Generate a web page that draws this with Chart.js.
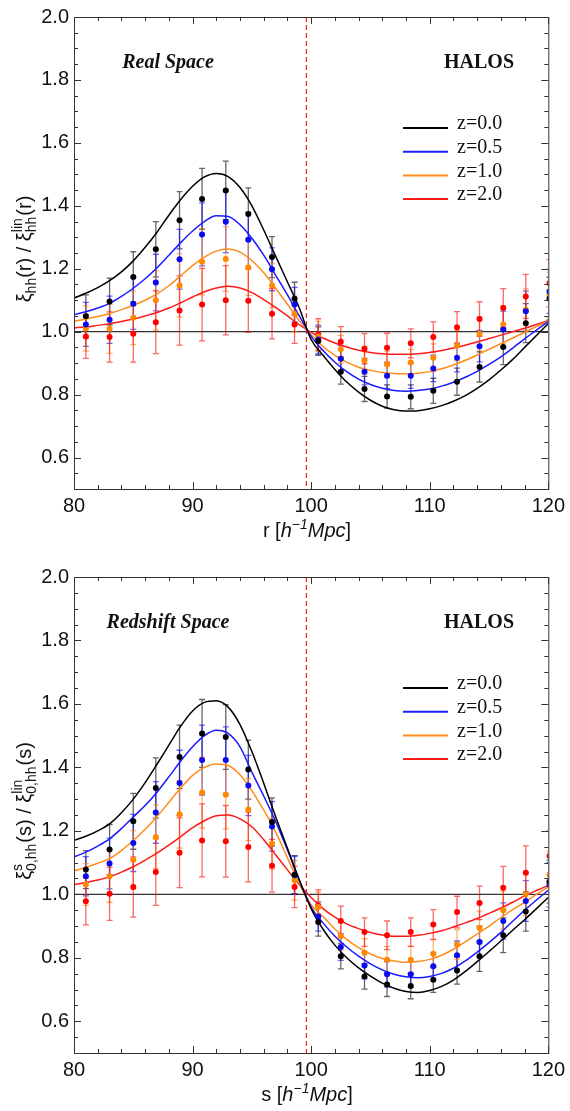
<!DOCTYPE html>
<html>
<head>
<meta charset="utf-8">
<script src="https://cdn.jsdelivr.net/npm/chart.js@4.4.1/dist/chart.umd.min.js"></script>
<style>
  html, body { margin: 0; padding: 0; background: #fff; }
  #wrap { position: relative; width: 570px; height: 1111px; }
  canvas { position: absolute; left: 0; }
  #real { top: 0; }
  #redshift { top: 555px; }
</style>
</head>
<body>
<div id="wrap">
  <canvas id="real" width="570" height="555"></canvas>
  <canvas id="redshift" width="570" height="556"></canvas>
</div>
<script>
// measured bins
const rBins = [81.0, 83.0, 85.0, 86.9, 88.9, 90.8, 92.8, 94.7, 96.7, 98.6, 100.6, 102.5, 104.5, 106.4, 108.4, 110.3, 112.3, 114.2, 116.2, 118.1, 120.1];
// model curve grid
const rGrid = [80, 81, 82, 83, 84, 85, 86, 87, 88, 89, 90, 91, 92, 93, 94, 95, 96, 97, 98, 99, 100,
  101, 102, 103, 104, 105, 106, 107, 108, 109, 110, 111, 112, 113, 114, 115, 116, 117, 118, 119, 120];

const zLabels = ["z=0.0", "z=0.5", "z=1.0", "z=2.0"];
const xTicks = [80, 90, 100, 110, 120];
const yTicks = [0.6, 0.8, 1.0, 1.2, 1.4, 1.6, 1.8, 2.0];
const baoPeak = 99.6;

// real space: measured points
const realK = [1.049, 1.096, 1.174, 1.262, 1.354, 1.422, 1.449, 1.374, 1.237, 1.105, 0.970, 0.873, 0.818, 0.794, 0.793, 0.812, 0.841, 0.888, 0.951, 1.027, 1.105];
const realB = [1.023, 1.038, 1.089, 1.156, 1.230, 1.309, 1.349, 1.292, 1.198, 1.086, 0.975, 0.914, 0.873, 0.860, 0.860, 0.883, 0.917, 0.954, 1.007, 1.065, 1.128];
const realO = [1.010, 1.009, 1.044, 1.100, 1.147, 1.222, 1.231, 1.205, 1.147, 1.056, 0.985, 0.944, 0.909, 0.896, 0.902, 0.917, 0.956, 0.993, 1.023, 1.070, 1.117];
const realR = [0.985, 0.983, 0.993, 1.030, 1.067, 1.086, 1.100, 1.098, 1.057, 1.023, 0.991, 0.968, 0.946, 0.949, 0.963, 0.983, 1.014, 1.040, 1.075, 1.112, 1.154];
const realErrK = [0.068, 0.074, 0.080, 0.088, 0.091, 0.097, 0.093, 0.083, 0.065, 0.052, 0.045, 0.040, 0.040, 0.037, 0.038, 0.040, 0.043, 0.048, 0.056, 0.062, 0.068];
const realErrB = [0.070, 0.075, 0.082, 0.090, 0.095, 0.100, 0.098, 0.087, 0.068, 0.055, 0.046, 0.042, 0.042, 0.040, 0.040, 0.042, 0.045, 0.050, 0.058, 0.064, 0.070];
const realErrO = [0.072, 0.078, 0.085, 0.094, 0.100, 0.105, 0.103, 0.090, 0.070, 0.057, 0.048, 0.044, 0.044, 0.042, 0.042, 0.044, 0.048, 0.053, 0.060, 0.066, 0.072];
const realErrR = [0.070, 0.080, 0.090, 0.100, 0.110, 0.115, 0.110, 0.100, 0.080, 0.060, 0.050, 0.048, 0.048, 0.046, 0.046, 0.048, 0.050, 0.055, 0.062, 0.070, 0.075];
// real space: model curves
const realFitK = [1.107, 1.122, 1.140, 1.162, 1.190, 1.225, 1.268, 1.316, 1.370, 1.420, 1.462, 1.492, 1.503, 1.493, 1.458, 1.400, 1.323, 1.240, 1.158, 1.075, 0.975,
  0.925, 0.880, 0.840, 0.808, 0.782, 0.763, 0.752, 0.748, 0.749, 0.755, 0.765, 0.779, 0.797, 0.820, 0.847, 0.878, 0.912, 0.950, 0.988, 1.026];
const realFitB = [1.054, 1.063, 1.075, 1.090, 1.112, 1.138, 1.168, 1.203, 1.243, 1.283, 1.320, 1.350, 1.368, 1.366, 1.340, 1.297, 1.243, 1.180, 1.117, 1.050, 0.985,
  0.940, 0.903, 0.873, 0.849, 0.832, 0.820, 0.813, 0.811, 0.813, 0.818, 0.827, 0.839, 0.855, 0.874, 0.896, 0.920, 0.948, 0.977, 1.005, 1.033];
const realFitO = [1.033, 1.040, 1.048, 1.058, 1.070, 1.084, 1.100, 1.120, 1.146, 1.178, 1.210, 1.237, 1.256, 1.263, 1.253, 1.226, 1.187, 1.138, 1.087, 1.035, 0.990,
  0.953, 0.925, 0.903, 0.887, 0.877, 0.870, 0.867, 0.866, 0.868, 0.873, 0.882, 0.894, 0.909, 0.926, 0.944, 0.962, 0.980, 0.998, 1.016, 1.034];
const realFitR = [1.012, 1.015, 1.020, 1.025, 1.032, 1.040, 1.050, 1.061, 1.075, 1.092, 1.110, 1.127, 1.139, 1.144, 1.139, 1.124, 1.102, 1.077, 1.050, 1.022, 0.998,
  0.980, 0.964, 0.951, 0.941, 0.934, 0.930, 0.928, 0.928, 0.930, 0.934, 0.940, 0.948, 0.957, 0.967, 0.978, 0.989, 1.000, 1.011, 1.023, 1.035];

// redshift space: measured points
const redshK = [1.078, 1.141, 1.230, 1.335, 1.433, 1.507, 1.496, 1.393, 1.228, 1.062, 0.913, 0.805, 0.741, 0.716, 0.711, 0.731, 0.760, 0.805, 0.871, 0.946, 1.040];
const redshB = [1.057, 1.097, 1.162, 1.258, 1.351, 1.423, 1.423, 1.343, 1.214, 1.060, 0.930, 0.834, 0.776, 0.748, 0.748, 0.773, 0.808, 0.850, 0.916, 0.979, 1.030];
const redshO = [1.031, 1.057, 1.109, 1.181, 1.252, 1.321, 1.314, 1.267, 1.160, 1.044, 0.960, 0.868, 0.816, 0.794, 0.794, 0.813, 0.842, 0.895, 0.950, 1.000, 1.062];
const redshR = [0.978, 1.002, 1.023, 1.070, 1.131, 1.170, 1.167, 1.149, 1.090, 1.023, 0.965, 0.916, 0.881, 0.871, 0.881, 0.905, 0.944, 0.973, 1.021, 1.068, 1.121];
const redshErrK = [0.060, 0.079, 0.088, 0.095, 0.100, 0.107, 0.102, 0.093, 0.076, 0.060, 0.045, 0.040, 0.040, 0.038, 0.040, 0.040, 0.043, 0.048, 0.055, 0.062, 0.068];
const redshErrB = [0.062, 0.080, 0.090, 0.097, 0.103, 0.110, 0.105, 0.095, 0.078, 0.060, 0.046, 0.042, 0.042, 0.040, 0.041, 0.042, 0.045, 0.050, 0.057, 0.064, 0.070];
const redshErrO = [0.066, 0.082, 0.092, 0.100, 0.106, 0.112, 0.108, 0.098, 0.080, 0.062, 0.048, 0.044, 0.044, 0.042, 0.042, 0.044, 0.047, 0.052, 0.060, 0.067, 0.073];
const redshErrR = [0.074, 0.084, 0.095, 0.105, 0.110, 0.115, 0.113, 0.110, 0.083, 0.065, 0.050, 0.047, 0.045, 0.045, 0.045, 0.047, 0.050, 0.053, 0.067, 0.085, 0.080];
// redshift space: model curves
const redshFitK = [1.170, 1.183, 1.200, 1.222, 1.257, 1.300, 1.352, 1.410, 1.470, 1.530, 1.578, 1.605, 1.610, 1.590, 1.535, 1.450, 1.350, 1.245, 1.145, 1.045, 0.955,
  0.890, 0.840, 0.800, 0.768, 0.742, 0.720, 0.704, 0.694, 0.691, 0.697, 0.710, 0.730, 0.757, 0.788, 0.820, 0.853, 0.887, 0.920, 0.955, 0.990];
const redshFitB = [1.118, 1.133, 1.152, 1.175, 1.207, 1.244, 1.280, 1.322, 1.370, 1.420, 1.465, 1.500, 1.517, 1.507, 1.465, 1.385, 1.310, 1.230, 1.140, 1.045, 0.960,
  0.910, 0.868, 0.834, 0.805, 0.781, 0.762, 0.748, 0.740, 0.737, 0.741, 0.751, 0.767, 0.790, 0.818, 0.848, 0.880, 0.915, 0.950, 0.982, 1.013];
const redshFitO = [1.074, 1.085, 1.098, 1.113, 1.138, 1.170, 1.205, 1.245, 1.290, 1.335, 1.375, 1.400, 1.411, 1.406, 1.377, 1.327, 1.265, 1.197, 1.115, 1.033, 0.967,
  0.930, 0.891, 0.858, 0.832, 0.812, 0.798, 0.790, 0.786, 0.788, 0.795, 0.808, 0.827, 0.850, 0.875, 0.900, 0.927, 0.952, 0.975, 1.000, 1.023];
const redshFitR = [1.031, 1.037, 1.045, 1.055, 1.070, 1.087, 1.108, 1.130, 1.155, 1.182, 1.210, 1.232, 1.248, 1.250, 1.238, 1.213, 1.172, 1.125, 1.077, 1.030, 0.990,
  0.955, 0.928, 0.907, 0.892, 0.880, 0.872, 0.868, 0.868, 0.871, 0.877, 0.885, 0.897, 0.910, 0.924, 0.940, 0.957, 0.975, 0.995, 1.012, 1.028];

const SANS = "'Liberation Sans', Arial, Helvetica, sans-serif";
const SERIF = "'Liberation Serif', 'Times New Roman', Times, serif";
const lineColors = ["#000000", "#1a1aff", "#ff8c1a", "#ff1a1a"];
const dotColors = ["#000000", "#0a0af0", "#ff8800", "#ff0000"];
const errColors = ["rgba(0,0,0,0.6)", "rgba(0,0,255,0.6)", "rgba(255,130,0,0.6)", "rgba(255,0,0,0.6)"];

function font(size, italic, bold, family) {
  return (italic ? "italic " : "") + (bold ? "bold " : "") + size + "px " + family;
}

// draws a row of text pieces (sub/superscripts) centred at cx, baseline cy
function drawRich(ctx, cx, cy, segs, family) {
  const widths = segs.map(s => {
    ctx.font = font(s.size, s.it, false, family);
    if (s.stack) return Math.max(ctx.measureText(s.stack[0]).width, ctx.measureText(s.stack[1]).width) + 1;
    return ctx.measureText(s.t).width;
  });
  const total = widths.reduce((a, b) => a + b, 0);
  let x = cx - total / 2;
  ctx.textAlign = "left";
  ctx.textBaseline = "alphabetic";
  segs.forEach((s, i) => {
    ctx.font = font(s.size, s.it, false, family);
    if (s.stack) {
      ctx.fillText(s.stack[0], x, cy + s.up);
      ctx.fillText(s.stack[1], x, cy + s.down);
    } else {
      ctx.fillText(s.t, x, cy + (s.dy || 0));
    }
    x += widths[i];
  });
}

function panelPlugin(cfg) {
  return {
    id: "panelDeco",
    beforeDatasetsDraw(chart) {
      const { ctx, chartArea: a, scales: { x, y } } = chart;
      ctx.save();
      ctx.beginPath();
      ctx.rect(a.left, a.top, a.right - a.left, a.bottom - a.top);
      ctx.clip();

      // unity line
      ctx.strokeStyle = "#333";
      ctx.lineWidth = 1.2;
      ctx.beginPath();
      ctx.moveTo(a.left, y.getPixelForValue(1.0));
      ctx.lineTo(a.right, y.getPixelForValue(1.0));
      ctx.stroke();

      // BAO peak marker
      ctx.strokeStyle = "#ff2020";
      ctx.lineWidth = 1.2;
      ctx.setLineDash([5, 3]);
      ctx.beginPath();
      ctx.moveTo(x.getPixelForValue(baoPeak), a.top);
      ctx.lineTo(x.getPixelForValue(baoPeak), a.bottom);
      ctx.stroke();
      ctx.setLineDash([]);

      // error bars
      chart.data.datasets.forEach(ds => {
        if (!ds.errors) return;
        ctx.strokeStyle = ds.errColor;
        ctx.lineWidth = 1.3;
        ds.data.forEach((p, k) => {
          const px = x.getPixelForValue(p.x);
          const y1 = y.getPixelForValue(p.y + ds.errors[k]);
          const y2 = y.getPixelForValue(p.y - ds.errors[k]);
          ctx.beginPath();
          ctx.moveTo(px, y1); ctx.lineTo(px, y2);
          ctx.moveTo(px - 3, y1); ctx.lineTo(px + 3, y1);
          ctx.moveTo(px - 3, y2); ctx.lineTo(px + 3, y2);
          ctx.stroke();
        });
      });
      ctx.restore();
    },
    afterDraw(chart) {
      const { ctx, chartArea: a, scales: { x, y } } = chart;
      ctx.save();

      // frame with inward ticks on all sides
      ctx.strokeStyle = "#333";
      ctx.lineWidth = 1;
      ctx.strokeRect(a.left + 0.5, a.top + 0.5, a.right - a.left, a.bottom - a.top);
      ctx.beginPath();
      for (let v = 80; v <= 120; v += 2) {
        const len = v % 10 === 0 ? 7 : 4;
        const px = Math.round(x.getPixelForValue(v)) + 0.5;
        ctx.moveTo(px, a.bottom); ctx.lineTo(px, a.bottom - len);
        ctx.moveTo(px, a.top); ctx.lineTo(px, a.top + len);
      }
      for (let i = 0; i <= 30; i++) {
        const v = 0.5 + i * 0.05;
        const len = i % 4 === 2 ? 7 : 4;
        const py = Math.round(y.getPixelForValue(v)) + 0.5;
        ctx.moveTo(a.left, py); ctx.lineTo(a.left + len, py);
        ctx.moveTo(a.right, py); ctx.lineTo(a.right - len, py);
      }
      ctx.stroke();

      // panel labels
      ctx.fillStyle = "#111";
      ctx.textAlign = "center";
      ctx.textBaseline = "middle";
      ctx.font = font(20, true, true, SERIF);
      ctx.fillText(cfg.space, 168, a.top + 46);
      ctx.font = font(20, false, true, SERIF);
      ctx.fillText("HALOS", 479, a.top + 46);

      // legend
      zLabels.forEach((lab, i) => {
        const ly = a.top + 111 + i * 23.7;
        ctx.strokeStyle = lineColors[i];
        ctx.lineWidth = 2;
        ctx.beginPath();
        ctx.moveTo(403, ly); ctx.lineTo(448, ly);
        ctx.stroke();
        ctx.fillStyle = "#111";
        ctx.font = font(20, false, false, SERIF);
        ctx.textAlign = "left";
        ctx.textBaseline = "middle";
        ctx.fillText(lab, 457, ly - 4);
      });

      // axis titles
      ctx.fillStyle = "#111";
      drawRich(ctx, 307, a.bottom + 48, cfg.xTitle, SANS);
      ctx.translate(31, (a.top + a.bottom) / 2 - 4);
      ctx.rotate(-Math.PI / 2);
      drawRich(ctx, 0, 0, cfg.yTitle, SANS);
      ctx.restore();
    }
  };
}

function makePanel(id, pts, errs, fits, cfg) {
  const datasets = [];
  pts.forEach((p, i) => datasets.push({
    data: rBins.map((r, k) => ({ x: r, y: p[k] })),
    showLine: false,
    pointRadius: 3,
    pointBackgroundColor: dotColors[i],
    pointBorderWidth: 0,
    errors: errs[i],
    errColor: errColors[i],
    order: 1
  }));
  fits.forEach((f, i) => datasets.push({
    data: rGrid.map((r, k) => ({ x: r, y: f[k] })),
    showLine: true,
    borderColor: lineColors[i],
    borderWidth: 1.5,
    pointRadius: 0,
    cubicInterpolationMode: "monotone",
    order: 2
  }));

  new Chart(document.getElementById(id), {
    type: "scatter",
    data: { datasets },
    options: {
      responsive: false,
      animation: false,
      events: [],
      layout: { padding: { left: 0, right: 19, top: cfg.top, bottom: 0 } },
      plugins: { legend: { display: false }, tooltip: { enabled: false } },
      scales: {
        x: {
          type: "linear", min: 80, max: 120,
          grid: { display: false, drawTicks: false },
          border: { display: false },
          ticks: { font: { family: SANS, size: 20 }, color: "#111", padding: 5, maxRotation: 0 },
          afterBuildTicks: s => { s.ticks = xTicks.map(v => ({ value: v })); },
          afterFit: s => { s.height = cfg.xAxisH; }
        },
        y: {
          min: 0.5, max: 2.0,
          grid: { display: false, drawTicks: false },
          border: { display: false },
          ticks: { font: { family: SANS, size: 20 }, color: "#111", padding: 5, callback: v => v.toFixed(1) },
          afterBuildTicks: s => { s.ticks = yTicks.map(v => ({ value: v })); },
          afterFit: s => { s.width = 74; }
        }
      }
    },
    plugins: [panelPlugin(cfg)]
  });
}

makePanel("real",
  [realK, realB, realO, realR],
  [realErrK, realErrB, realErrO, realErrR],
  [realFitK, realFitB, realFitO, realFitR],
  {
    top: 13, xAxisH: 66, space: "Real Space",
    xTitle: [{ t: "r [", size: 20 }, { t: "h", size: 20, it: true }, { t: "\u22121", size: 14, it: true, dy: -8 }, { t: "Mpc", size: 20, it: true }, { t: "]", size: 20 }],
    yTitle: [{ t: "\u03BE", size: 20 }, { t: "hh", size: 14, dy: 5 }, { t: "(r) / \u03BE", size: 20 },
      { stack: ["lin", "hh"], size: 14, up: -9, down: 5 }, { t: "(r)", size: 20 }]
  });

makePanel("redshift",
  [redshK, redshB, redshO, redshR],
  [redshErrK, redshErrB, redshErrO, redshErrR],
  [redshFitK, redshFitB, redshFitO, redshFitR],
  {
    top: 22, xAxisH: 58, space: "Redshift Space",
    xTitle: [{ t: "s [", size: 20 }, { t: "h", size: 20, it: true }, { t: "\u22121", size: 14, it: true, dy: -8 }, { t: "Mpc", size: 20, it: true }, { t: "]", size: 20 }],
    yTitle: [{ t: "\u03BE", size: 20 }, { stack: ["s", "0,hh"], size: 14, up: -9, down: 5 }, { t: "(s) / \u03BE", size: 20 },
      { stack: ["lin", "0,hh"], size: 14, up: -9, down: 5 }, { t: "(s)", size: 20 }]
  });
</script>
</body>
</html>
